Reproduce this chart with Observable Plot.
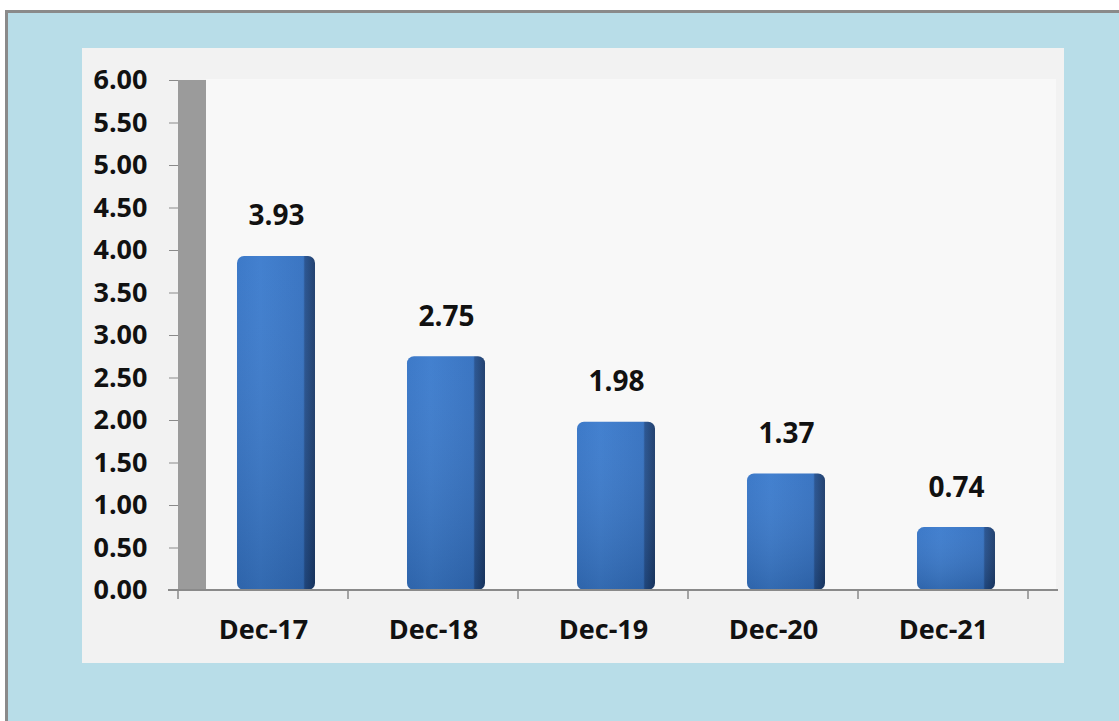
<!DOCTYPE html>
<html><head><meta charset="utf-8">
<script src="https://cdn.jsdelivr.net/npm/d3@7"></script>
<script src="https://cdn.jsdelivr.net/npm/@observablehq/plot@0.6"></script>
<style>
html,body{margin:0;padding:0;background:#fff;width:1119px;height:721px;overflow:hidden;}
#frame{position:absolute;left:5px;top:10px;width:1114px;height:711px;background:#b8dde8;border-left:3px solid #8a8a8a;border-top:3px solid #8a8a8a;box-sizing:border-box;}
#panel{position:absolute;left:82px;top:48px;width:982px;height:615px;background:#f2f2f2;}
#chart{position:absolute;left:0;top:0;}
</style></head><body>
<div id="frame"></div><div id="panel"></div><div id="chart"></div>
<script>
const categories = ["Dec-17", "Dec-18", "Dec-19", "Dec-20", "Dec-21"];
const values = [3.93, 2.75, 1.98, 1.37, 0.74];
const yTicks = [0, 0.5, 1, 1.5, 2, 2.5, 3, 3.5, 4, 4.5, 5, 5.5, 6];

const data = categories.map((c, i) => ({category: c, value: values[i]}));

function defs() {
  const d = d3.create("svg:defs");
  const h = d.append("linearGradient").attr("id", "barGrad").attr("x1", 0).attr("x2", 1).attr("y1", 0).attr("y2", 0);
  [[0, "#3574c6"], [0.3, "#3b7bcd"], [0.85, "#3370c0"], [0.87, "#24508e"], [1, "#1a3a6a"]]
    .forEach(([o, c]) => h.append("stop").attr("offset", o).attr("stop-color", c));
  const v = d.append("linearGradient").attr("id", "shade").attr("x1", 0).attr("x2", 0).attr("y1", 0).attr("y2", 1);
  v.append("stop").attr("offset", 0).attr("stop-color", "#ffffff").attr("stop-opacity", 0.04);
  v.append("stop").attr("offset", 1).attr("stop-color", "#000000").attr("stop-opacity", 0.14);
  return d.node();
}

function walls(index, scales, vals, dims) {
  const g = d3.create("svg:g");
  const x0 = dims.marginLeft, x1 = dims.width - dims.marginRight;
  const yTop = scales.y(6), yBot = scales.y(0);
  const depth = 28;
  g.append("rect").attr("x", x0 + depth).attr("y", yTop - 1).attr("width", x1 - x0)
    .attr("height", yBot - yTop + 1).attr("fill", "#f8f8f8");
  g.append("rect").attr("x", x0).attr("y", yTop).attr("width", depth)
    .attr("height", yBot - yTop).attr("fill", "#9b9b9b");
  return g.node();
}

function baseline(index, scales, vals, dims) {
  const g = d3.create("svg:g").attr("stroke", "#8a8a8a");
  const x0 = dims.marginLeft, x1 = dims.width - dims.marginRight;
  const yb = scales.y(0);
  g.append("line").attr("x1", x0 - 10).attr("x2", x1 + 30).attr("y1", yb).attr("y2", yb).attr("stroke-width", 2);
  const xs = categories.map(c => scales.x(c)).concat([x1]);
  xs.forEach(x => g.append("line").attr("x1", x).attr("x2", x).attr("y1", yb).attr("y2", yb + 9).attr("stroke-width", 1.5));
  return g.node();
}

const chart = Plot.plot({
  width: 1119,
  height: 721,
  marginLeft: 178,
  marginRight: 91,
  marginTop: 80,
  marginBottom: 131,
  style: {background: "transparent", fontFamily: "'Open Sans', sans-serif", fontWeight: "bold", color: "#111"},
  x: {domain: categories, padding: 0, label: null},
  y: {domain: [0, 6], label: null},
  marks: [
    defs,
    walls,
    Plot.axisY({ticks: yTicks, tickFormat: d3.format(".2f"), tickSize: 9, tickPadding: 22, fontSize: 27, stroke: "#8a8a8a", fill: "#111", label: null}),
    Plot.axisX({tickSize: 0, tickPadding: 29, fontSize: 27, fill: "#111", label: null}),
    Plot.barY(data, {x: "category", y: "value", insetLeft: 59, insetRight: 33, fill: "url(#barGrad)", rx: 7}),
    Plot.barY(data, {x: "category", y: "value", insetLeft: 59, insetRight: 33, fill: "url(#shade)", rx: 7}),
    baseline,
    Plot.text(data, {x: "category", y: "value", text: d => d.value.toFixed(2), dx: 13, dy: -40, fontSize: 28, fontWeight: "bold", fill: "#111"})
  ]
});
document.getElementById("chart").appendChild(chart);
</script>
</body></html>
